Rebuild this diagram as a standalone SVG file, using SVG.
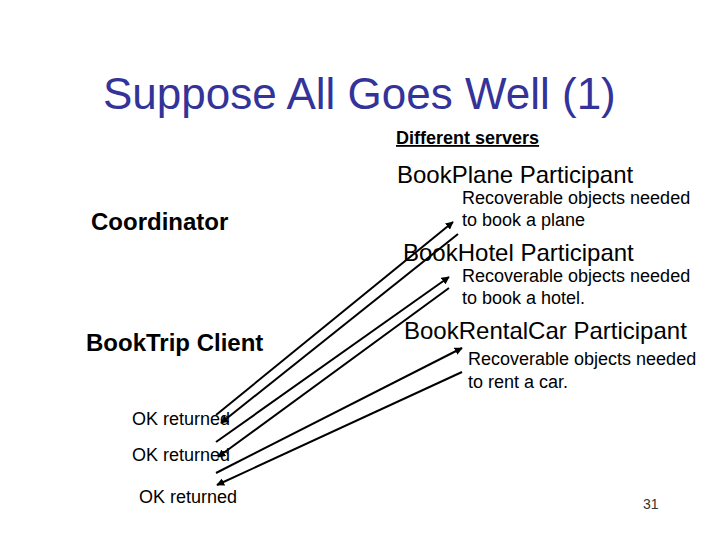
<svg xmlns="http://www.w3.org/2000/svg" width="720" height="540" viewBox="0 0 720 540">
<style>
text{font-family:"Liberation Sans",Arial,sans-serif;fill:#000}
.title{font-size:44px;fill:#333399}
.big{font-size:24px}
.bold{font-weight:bold}
.small{font-size:18px}
.conn line{stroke:#000;stroke-width:2}
</style>
<defs>
<marker id="ah" viewBox="0 0 10 10" refX="9" refY="5" markerWidth="4" markerHeight="4" orient="auto" markerUnits="strokeWidth">
<path d="M0,0 L10,5 L0,10 z" fill="#000"/>
</marker>
</defs>
<rect width="720" height="540" fill="#fff"/>
<text class="title" x="103" y="109">Suppose All Goes Well (1)</text>
<g id="heading">
<text class="small bold" x="396" y="144" text-decoration="underline">Different servers</text>
</g>
<g id="coordinator"><text class="big bold" x="91" y="230">Coordinator</text></g>
<g id="client"><text class="big bold" x="86" y="351">BookTrip Client</text></g>
<g id="plane">
<text class="big" x="397" y="183">BookPlane Participant</text>
<text class="small" x="462" y="204">Recoverable objects needed</text>
<text class="small" x="462" y="226">to book a plane</text>
</g>
<g id="hotel">
<text class="big" x="403" y="261">BookHotel Participant</text>
<text class="small" x="462" y="282">Recoverable objects needed</text>
<text class="small" x="462" y="304">to book a hotel.</text>
</g>
<g id="car">
<text class="big" x="404" y="339">BookRentalCar Participant</text>
<text class="small" x="468" y="365">Recoverable objects needed</text>
<text class="small" x="468" y="388">to rent a car.</text>
</g>
<g id="ok1"><text class="small" x="132" y="425">OK returned</text></g>
<g id="ok2"><text class="small" x="132" y="461">OK returned</text></g>
<g id="ok3"><text class="small" x="139" y="503">OK returned</text></g>
<g class="conn" id="connectors">
<line x1="216" y1="415" x2="453" y2="222" marker-end="url(#ah)"/>
<line x1="458" y1="234" x2="221" y2="423" marker-end="url(#ah)"/>
<line x1="216" y1="442" x2="449" y2="277" marker-end="url(#ah)"/>
<line x1="449" y1="288" x2="218" y2="457" marker-end="url(#ah)"/>
<line x1="216" y1="473" x2="462" y2="348" marker-end="url(#ah)"/>
<line x1="462" y1="372" x2="217" y2="485" marker-end="url(#ah)"/>
</g>
<text x="643" y="509" font-size="14" style="fill:#333">31</text>
</svg>
